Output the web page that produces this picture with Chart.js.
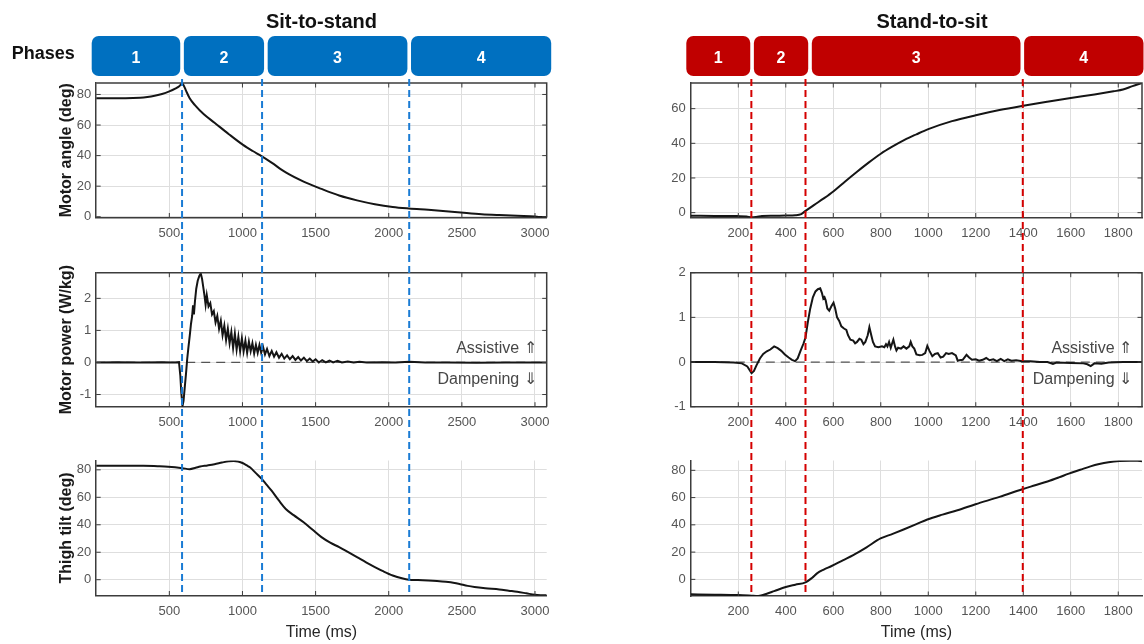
<!DOCTYPE html>
<html>
<head>
<meta charset="utf-8">
<script src="https://cdn.jsdelivr.net/npm/chart.js@4.4.1/dist/chart.umd.min.js"></script>
<style>
  html, body { margin: 0; padding: 0; background: #fff; }
  #wrap { position: relative; width: 1144px; height: 644px; overflow: hidden; background: #fff; }
  #wrap canvas { position: absolute; left: 0; top: 0; }
</style>
</head>
<body>
<div id="wrap"></div>
<script>
// ---- Sit-to-stand (time in ms, value) ----
const sitAngle = [[0,77.6],[100,77.6],[200,77.6],[300,77.9],[350,78.4],[400,79.2],[450,80.3],[500,82.0],[540,83.8],[570,85.6],[587,87.3],[600,85.6],[614,82.5],[639,77.5],[675,73.0],[736,67.0],[809,61.5],[907,54.0],[1004,47.0],[1070,43.0],[1133,39.5],[1199,35.4],[1296,29.0],[1418,23.0],[1540,18.2],[1661,13.9],[1783,10.7],[1905,8.2],[2027,6.4],[2138,5.4],[2270,4.5],[2391,3.6],[2513,2.6],[2635,1.7],[2756,1.1],[2878,0.6],[3000,0.2],[3030,-0.2],[3080,-0.2]];

const sitPower = [[0,0],[150,0.01],[300,0],[450,0.01],[540,0],[566,0.01],[575,-0.4],[582,-0.95],[590,-1.36],[597,-1.2],[605,-0.8],[614,-0.35],[622,0.1],[630,0.45],[640,0.85],[648,1.2],[656,1.45],[662,1.78],[668,1.5],[675,1.9],[684,2.3],[694,2.55],[705,2.7],[715,2.78],[724,2.6],[732,2.35],[740,2.1],[748,1.8],[756,2.1],[768,1.75],[780,1.85],[792,1.5],[804,1.6],[816,1.25],[828,1.45],[840,1.05],[852,1.3],[864,0.85],[876,1.15],[888,0.7],[900,1.05],[912,0.6],[924,0.95],[936,0.45],[948,0.9],[960,0.4],[972,0.8],[984,0.35],[996,0.75],[1008,0.35],[1020,0.68],[1032,0.3],[1044,0.65],[1056,0.35],[1068,0.6],[1080,0.28],[1092,0.55],[1104,0.3],[1116,0.55],[1128,0.3],[1140,0.5],[1154,0.25],[1168,0.42],[1184,0.2],[1200,0.36],[1216,0.18],[1232,0.32],[1250,0.15],[1268,0.27],[1286,0.12],[1305,0.22],[1324,0.1],[1343,0.2],[1362,0.08],[1381,0.17],[1400,0.06],[1420,0.15],[1440,0.04],[1460,0.12],[1480,0.03],[1500,0.1],[1522,0.0],[1545,0.07],[1570,0.0],[1595,0.06],[1620,0.0],[1650,0.05],[1680,0.0],[1720,0.03],[1760,0.0],[1800,0.02],[1850,0.0],[1950,0.01],[2050,0.0],[2140,0.02],[2250,0.0],[2400,0.0],[2600,-0.01],[2800,0.0],[3080,0.0]];

const sitTilt = [[0,83],[200,83],[322,83],[420,82.6],[492,82.2],[590,81.2],[639,80.5],[680,81.5],[711,82.4],[760,83.2],[809,84.1],[860,85.3],[907,86.3],[940,86.5],[970,86.1],[1004,84.8],[1030,83.2],[1053,81.7],[1090,77.8],[1133,73.2],[1166,69.0],[1199,64.8],[1250,57.5],[1296,51.5],[1350,47.0],[1418,41.8],[1480,36.3],[1540,31.0],[1600,27.0],[1661,23.7],[1720,20.2],[1783,16.4],[1845,12.6],[1905,9.2],[1965,6.0],[2027,3.1],[2090,1.0],[2138,0],[2200,-0.2],[2270,-0.5],[2330,-0.9],[2391,-1.5],[2450,-2.4],[2489,-3.3],[2540,-4.5],[2586,-5.3],[2660,-6.2],[2756,-7.1],[2820,-8.0],[2878,-8.8],[2940,-9.9],[3000,-11.0],[3040,-11.3],[3080,-11.4]];

const sitPhaseLines = [587, 1134, 2140];          // phase transitions
const sitPhaseEdges = [0, 587, 1160, 2140, 3080]; // phase banner spans
const sitXTicks = [500, 1000, 1500, 2000, 2500, 3000];

// ---- Stand-to-sit (time in ms, value) ----
const standAngle = [[0,-1.8],[100,-1.9],[200,-2.0],[235,-2.2],[256,-2.7],[275,-2.5],[300,-2.0],[350,-1.8],[400,-1.7],[440,-1.5],[465,-0.8],[483,1.0],[520,4.5],[560,8.2],[600,12.2],[650,18.0],[700,23.6],[750,29.0],[800,34.0],[850,38.2],[900,42.0],[950,45.2],[1000,48.2],[1100,52.8],[1200,56.2],[1300,59.2],[1400,61.7],[1500,64.0],[1600,66.2],[1700,68.2],[1780,70.0],[1820,71.0],[1860,73.0],[1900,74.8]];

const standPower = [[0,0],[100,0],[180,-0.01],[215,-0.03],[238,-0.1],[256,-0.25],[266,-0.2],[276,-0.08],[291,0.08],[305,0.18],[320,0.24],[335,0.28],[351,0.35],[366,0.31],[381,0.25],[396,0.17],[412,0.1],[426,0.05],[439,0.02],[450,0.08],[462,0.25],[475,0.42],[483,0.55],[493,0.9],[503,1.2],[514,1.45],[525,1.58],[535,1.63],[545,1.65],[552,1.55],[558,1.42],[563,1.45],[568,1.38],[575,1.2],[583,1.15],[592,1.25],[601,1.33],[608,1.2],[616,1.0],[625,0.92],[634,0.8],[645,0.75],[655,0.72],[662,0.6],[672,0.5],[684,0.48],[692,0.42],[700,0.45],[710,0.52],[718,0.5],[727,0.4],[735,0.45],[745,0.6],[752,0.78],[760,0.6],[767,0.45],[776,0.35],[790,0.33],[805,0.35],[815,0.33],[822,0.4],[828,0.35],[835,0.45],[842,0.32],[848,0.42],[853,0.5],[860,0.35],[866,0.26],[873,0.32],[885,0.3],[896,0.35],[908,0.3],[920,0.35],[926,0.45],[933,0.35],[941,0.3],[950,0.17],[964,0.15],[975,0.16],[987,0.2],[996,0.36],[1005,0.25],[1017,0.13],[1028,0.18],[1040,0.2],[1052,0.1],[1063,0.12],[1075,0.2],[1086,0.18],[1100,0.2],[1116,0.15],[1124,0.03],[1131,0.04],[1145,0.05],[1161,0.16],[1172,0.1],[1184,0.05],[1200,0.06],[1214,0.03],[1229,0.05],[1244,0.09],[1258,0.04],[1274,0.06],[1289,0.02],[1305,0.07],[1320,0.02],[1335,0.06],[1350,0.03],[1370,0.04],[1396,0.02],[1430,0.02],[1470,0.0],[1502,0.0],[1525,-0.04],[1540,-0.01],[1600,-0.02],[1653,-0.03],[1670,-0.05],[1684,-0.09],[1700,-0.03],[1729,-0.04],[1760,-0.01],[1820,0.0],[1900,0.0]];

const standTilt = [[0,-11],[100,-11.2],[200,-11.5],[256,-12.0],[275,-12.2],[291,-12.0],[320,-10.5],[351,-8.6],[400,-5.6],[440,-3.9],[483,-2.2],[510,1.0],[533,4.6],[560,7.2],[593,9.8],[640,14.0],[684,17.8],[740,23.5],[799,30.0],[850,33.4],[896,36.6],[950,40.5],[996,43.9],[1060,47.5],[1123,50.7],[1199,55.1],[1300,60.5],[1396,66.1],[1450,69.0],[1502,71.8],[1550,74.8],[1592,77.6],[1640,80.4],[1683,82.9],[1720,84.6],[1759,85.9],[1805,86.8],[1850,87.1],[1880,87.0],[1900,86.6]];

const standPhaseLines = [255, 483, 1398];
const standPhaseEdges = [0, 258, 502, 1396, 1900];
const standXTicks = [200, 400, 600, 800, 1000, 1200, 1400, 1600, 1800];

// ---- shared tick labels ----
const angleTicks = [0, 20, 40, 60, 80];
const standAngleTicks = [0, 20, 40, 60];
const powerTicks = [-1, 0, 1, 2];
const phaseNames = ['1', '2', '3', '4'];

const FONT = "'Liberation Sans', Arial, Helvetica, sans-serif";
Chart.defaults.font.family = FONT;

const toXY = arr => arr.map(([x, y]) => ({ x, y }));
const wrap = document.getElementById('wrap');

function line(ctx, x0, y0, x1, y1) {
  ctx.beginPath(); ctx.moveTo(x0, y0); ctx.lineTo(x1, y1); ctx.stroke();
}

// Box outline, inward tick marks and the assistive/dampening notes
const panelFrame = {
  id: 'panelFrame',
  afterDraw(chart, args, opts) {
    const { ctx, chartArea: a, scales: { x, y } } = chart;
    ctx.save();
    ctx.strokeStyle = '#3c3c3c';
    if (opts.box) {
      ctx.lineWidth = 1.5;
      ctx.beginPath();
      ctx.moveTo(a.left, a.top); ctx.lineTo(a.right, a.top); ctx.lineTo(a.right, a.bottom);
      ctx.stroke();
    }
    ctx.lineWidth = 1;
    const tl = 4.5;
    x.ticks.forEach(t => {
      const px = x.getPixelForValue(t.value);
      line(ctx, px, a.bottom, px, a.bottom - tl);
      if (opts.box) line(ctx, px, a.top, px, a.top + tl);
    });
    y.ticks.forEach(t => {
      const py = y.getPixelForValue(t.value);
      line(ctx, a.left, py, a.left + tl, py);
      if (opts.box) line(ctx, a.right, py, a.right - tl, py);
    });
    if (opts.notes) {
      const y0 = y.getPixelForValue(0);
      ctx.font = '16px ' + FONT;
      ctx.fillStyle = '#474747';
      ctx.textAlign = 'right';
      ctx.textBaseline = 'middle';
      ctx.fillText('Assistive \u21D1', a.right - 10, y0 - 13.5);
      ctx.fillText('Dampening \u21D3', a.right - 10, y0 + 17.5);
    }
    ctx.restore();
  }
};

// Column title and the numbered phase banner
const phaseHeader = {
  id: 'phaseHeader',
  afterDraw(chart, args, opts) {
    if (!opts.title) return;
    const { ctx, scales: { x } } = chart;
    ctx.save();
    ctx.fillStyle = '#111';
    ctx.font = 'bold 20px ' + FONT;
    ctx.textAlign = 'center';
    ctx.textBaseline = 'alphabetic';
    ctx.fillText(opts.title, opts.titleX, 28);
    if (opts.phasesLabel) {
      ctx.font = 'bold 18px ' + FONT;
      ctx.fillText('Phases', 43.3, 58.5);
    }
    const edges = opts.edges;
    const n = edges.length - 1;
    for (let i = 0; i < n; i++) {
      let x0 = x.getPixelForValue(edges[i]) + (i === 0 ? -4.5 : 1.8);
      let x1 = x.getPixelForValue(edges[i + 1]) - (i === n - 1 ? -4.5 : 1.8);
      x1 = Math.min(x1, 1143.5);
      ctx.fillStyle = opts.color;
      ctx.beginPath();
      ctx.roundRect(x0, 36, x1 - x0, 40, 7);
      ctx.fill();
      ctx.fillStyle = '#fff';
      ctx.font = 'bold 16px ' + FONT;
      ctx.fillText(phaseNames[i], (x0 + x1) / 2, 63.3);
    }
    ctx.restore();
  }
};

// Dashed phase-transition markers running through all three panels
const phaseLines = {
  id: 'phaseLines',
  afterDatasetsDraw(chart, args, opts) {
    if (!opts.times) return;
    const { ctx, chartArea: a, scales: { x } } = chart;
    ctx.save();
    ctx.strokeStyle = opts.color;
    ctx.lineWidth = 2;
    ctx.setLineDash([7, 4]);
    opts.times.forEach(t => {
      const px = x.getPixelForValue(t);
      line(ctx, px, 79, px, a.bottom);
    });
    ctx.restore();
  }
};

function panel(o) {
  const canvas = document.createElement('canvas');
  canvas.width = 1144; canvas.height = 644;
  canvas.style.width = '1144px'; canvas.style.height = '644px';
  wrap.appendChild(canvas);

  const datasets = [{
    data: toXY(o.series),
    borderColor: '#151515',
    borderWidth: 2,
    pointRadius: 0,
    fill: false,
    tension: o.smooth ? 0.4 : 0,
    cubicInterpolationMode: o.smooth ? 'monotone' : 'default'
  }];
  if (o.zeroLine) {
    datasets.push({
      data: [{ x: o.xMin, y: 0 }, { x: o.xMax, y: 0 }],
      borderColor: '#555', borderWidth: 1.2, borderDash: [9, 6],
      pointRadius: 0, fill: false
    });
  }

  const gridColor = '#dedede';
  const axisColor = '#3c3c3c';
  const tickColor = '#555';

  return new Chart(canvas, {
    type: 'line',
    data: { datasets },
    options: {
      responsive: false,
      animation: false,
      devicePixelRatio: 1,
      events: [],
      layout: { padding: { left: o.L - o.axisW, top: o.T, right: 1144 - o.R, bottom: 644 - o.B - o.axisH } },
      plugins: {
        legend: { display: false },
        tooltip: { enabled: false },
        panelFrame: { box: o.box, notes: o.notes },
        phaseHeader: o.header || {},
        phaseLines: o.lines || {}
      },
      scales: {
        x: {
          type: 'linear', min: o.xMin, max: o.xMax,
          afterBuildTicks: s => { s.ticks = o.xTicks.map(v => ({ value: v })); },
          afterFit: s => { s.height = o.axisH; },
          ticks: { padding: 8, color: tickColor, font: { size: 13 }, maxRotation: 0, autoSkip: false, callback: v => String(v) },
          grid: { color: gridColor, lineWidth: 1, drawTicks: false },
          border: { display: true, color: axisColor, width: 1.5 },
          title: { display: !!o.xTitle, text: o.xTitle || '', color: '#262626', font: { size: 16 }, padding: 0 }
        },
        y: {
          type: 'linear', min: o.yMin, max: o.yMax,
          afterBuildTicks: s => { s.ticks = o.yTicks.map(v => ({ value: v })); },
          afterFit: s => { s.width = o.axisW; },
          ticks: { padding: 5, color: tickColor, font: { size: 13 }, autoSkip: false, callback: v => String(v) },
          grid: { color: gridColor, lineWidth: 1, drawTicks: false },
          border: { display: true, color: axisColor, width: 1.5 },
          title: { display: !!o.yTitle, text: o.yTitle || '', color: '#1a1a1a', font: { size: 16, weight: 'bold' }, padding: 0 }
        }
      }
    },
    plugins: [panelFrame, phaseHeader, phaseLines]
  });
}

// ---- left column: sit-to-stand ----
const sitCol = { L: 96.2, R: 546.7, axisW: 38.8, xMin: 0, xMax: 3080, xTicks: sitXTicks };
panel(Object.assign({}, sitCol, {
  T: 83, B: 217.5, axisH: 25, yMin: -0.5, yMax: 87.5, yTicks: angleTicks,
  series: sitAngle, smooth: true, box: true, yTitle: 'Motor angle (deg)',
  header: { title: 'Sit-to-stand', titleX: 321.5, phasesLabel: true, color: '#0070C0', edges: sitPhaseEdges }
}));
panel(Object.assign({}, sitCol, {
  T: 272.7, B: 406.7, axisH: 25, yMin: -1.38, yMax: 2.8, yTicks: powerTicks,
  series: sitPower, smooth: false, box: true, notes: true, zeroLine: true, yTitle: 'Motor power (W/kg)'
}));
panel(Object.assign({}, sitCol, {
  T: 460.5, B: 595.5, axisH: 46.4, yMin: -11.5, yMax: 86.8, yTicks: angleTicks,
  series: sitTilt, smooth: true, box: false, yTitle: 'Thigh tilt (deg)', xTitle: 'Time (ms)',
  lines: { times: sitPhaseLines, color: '#1a7bd4' }
}));

// ---- right column: stand-to-sit ----
const standCol = { L: 690.8, R: 1142, axisW: 40, xMin: 0, xMax: 1900, xTicks: standXTicks };
panel(Object.assign({}, standCol, {
  T: 83, B: 217.5, axisH: 25, yMin: -2.8, yMax: 74.8, yTicks: standAngleTicks,
  series: standAngle, smooth: true, box: true,
  header: { title: 'Stand-to-sit', titleX: 932, phasesLabel: false, color: '#C00000', edges: standPhaseEdges }
}));
panel(Object.assign({}, standCol, {
  T: 272.7, B: 406.7, axisH: 25, yMin: -1, yMax: 2, yTicks: powerTicks,
  series: standPower, smooth: false, box: true, notes: true, zeroLine: true
}));
panel(Object.assign({}, standCol, {
  T: 460.5, B: 596, axisH: 45.9, yMin: -12.2, yMax: 87.2, yTicks: angleTicks,
  series: standTilt, smooth: true, box: false, xTitle: 'Time (ms)',
  lines: { times: standPhaseLines, color: '#d40000' }
}));
</script>
</body>
</html>
